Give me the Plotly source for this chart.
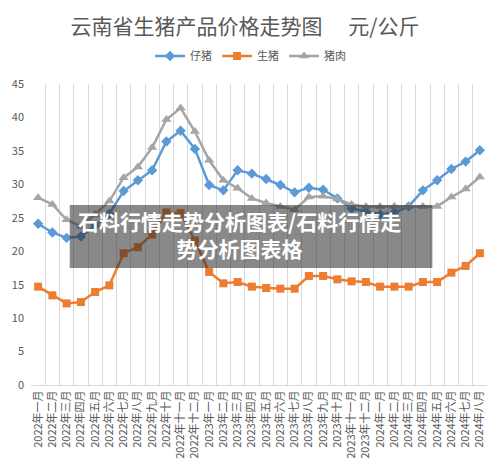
import plotly.graph_objects as go

months_cn = ["一月", "二月", "三月", "四月", "五月", "六月", "七月", "八月", "九月", "十月", "十一月", "十二月"]
categories = [f"{y}年{m}" for y in (2022, 2023) for m in months_cn] + [f"2024年{m}" for m in months_cn[:8]]

piglet = [24.1, 22.8, 22.0, 22.2, 23.8, 25.6, 29.0, 30.6, 32.1, 36.4, 38.0, 35.3,
          29.9, 29.1, 32.1, 31.6, 30.8, 29.9, 28.8, 29.5, 29.2, 27.9, 26.4, 25.9,
          25.5, 25.8, 26.7, 29.1, 30.6, 32.3, 33.4, 35.1]
hog = [14.7, 13.4, 12.2, 12.4, 13.9, 14.9, 19.7, 20.6, 22.5, 25.8, 25.7, 21.6,
       16.9, 15.2, 15.4, 14.7, 14.5, 14.4, 14.4, 16.3, 16.3, 15.8, 15.5, 15.4,
       14.7, 14.7, 14.7, 15.4, 15.4, 16.8, 17.8, 19.7]
pork = [28.0, 27.0, 24.7, 23.7, 25.5, 27.5, 31.0, 32.6, 35.5, 39.7, 41.4, 37.9,
        33.6, 30.6, 29.4, 27.9, 27.2, 26.7, 26.2, 28.1, 28.2, 27.8, 27.0, 26.7,
        26.7, 26.7, 26.7, 26.7, 26.7, 28.1, 29.3, 31.1]

series = [
    ("仔猪", piglet, "#5B9BD5", "diamond", 8),
    ("生猪", hog, "#ED7D31", "square", 8),
    ("猪肉", pork, "#A5A5A5", "triangle-up", 9),
]

FONT = "Noto Sans CJK SC"
fig = go.Figure()
for name, vals, color, sym, ms in series:
    fig.add_trace(go.Scatter(
        x=categories, y=vals, name=name, mode="lines+markers",
        line=dict(color=color, width=2.5),
        marker=dict(symbol=sym, size=ms, color=color),
    ))

fig.update_layout(
    width=500, height=476,
    margin=dict(l=28, r=13, t=84, b=91),
    paper_bgcolor="white", plot_bgcolor="white",
    font=dict(family=FONT, color="#595959"),
    title=dict(text="云南省生猪产品价格走势图　 元/公斤", x=0.49, xanchor="center",
               y=0.945, yanchor="middle",
               font=dict(family=FONT, size=21, color="#595959")),
    legend=dict(orientation="h", x=0.4815, xanchor="center", y=1.093, yanchor="middle",
                font=dict(size=11, color="#595959"), itemwidth=30, tracegroupgap=0,
                bgcolor="rgba(0,0,0,0)"),
    showlegend=True,
)
fig.update_xaxes(
    type="category", tickangle=-90, tickson="boundaries",
    showgrid=True, gridcolor="#D9D9D9", gridwidth=1,
    showline=True, linecolor="#D9D9D9", linewidth=1,
    ticks="", tickfont=dict(size=11, color="#595959"),
    range=[-0.5, len(categories) - 0.5], fixedrange=True,
)
fig.update_yaxes(
    range=[0, 45], dtick=5, showgrid=False, zeroline=False, showline=False,
    ticks="", tickfont=dict(size=11, color="#595959"), ticklabelstandoff=6,
)

# dark watermark banner
fig.add_shape(type="rect", xref="paper", yref="paper",
              x0=(67 - 28) / 459, x1=(432 - 28) / 459,
              y0=(385 - 268) / 301, y1=(385 - 205) / 301,
              fillcolor="rgba(40,40,40,0.55)", line=dict(width=0), layer="above")
fig.add_annotation(xref="paper", yref="paper", x=(238.3 - 28) / 459, y=(385 - 234.5) / 301,
                   text="<b>石料行情走势分析图表/石料行情走<br>势分析图表格</b>",
                   showarrow=False, xanchor="center", yanchor="middle", align="center",
                   font=dict(family=FONT, size=21, color="white"))

fig.write_html("out.html")
